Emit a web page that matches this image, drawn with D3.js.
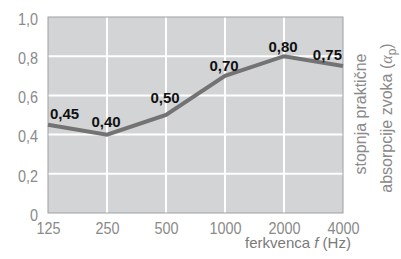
<!DOCTYPE html>
<html><head><meta charset="utf-8">
<script src="https://cdn.jsdelivr.net/npm/d3@7"></script>
<style>
body{margin:0;background:#fff;}
svg{display:block;font-family:"Liberation Sans",Arial,sans-serif;}
</style></head><body>
<svg id="c" width="401" height="259"></svg>
<script>
const categories = ["125","250","500","1000","2000","4000"];
const values = [0.45,0.40,0.50,0.70,0.80,0.75];
const valueLabels = ["0,45","0,40","0,50","0,70","0,80","0,75"];
const yTicks = [0,0.2,0.4,0.6,0.8,1.0];
const yTickLabels = ["0","0,2","0,4","0,6","0,8","1,0"];

// label styling (offsets in px above the point)
const labelLift = [6,8,12,5,4,6];

const svg = d3.select("#c");
const L=48, R=343, T=17, B=213;
const x = d3.scalePoint().domain(categories).range([L,R]);
const y = d3.scaleLinear().domain([0,1]).range([B,T]);
const SX = 0.9;

svg.append("rect").attr("x",L).attr("y",T).attr("width",R-L).attr("height",B-T)
  .attr("fill","#d3d4d5");

// grid
svg.append("g").selectAll("line").data(categories.slice(1,-1)).join("line")
  .attr("x1",d=>x(d)).attr("x2",d=>x(d)).attr("y1",T).attr("y2",B)
  .attr("stroke","#fff").attr("stroke-width",2);
svg.append("g").selectAll("line").data(yTicks.slice(1,-1)).join("line")
  .attr("x1",L).attr("x2",R).attr("y1",d=>y(d)).attr("y2",d=>y(d))
  .attr("stroke","#fff").attr("stroke-width",2);

// border
svg.append("rect").attr("x",L).attr("y",T).attr("width",R-L).attr("height",B-T)
  .attr("fill","none").attr("stroke","#a0a0a0").attr("stroke-width",1);

// axes
const yAxis = d3.axisLeft(y).tickValues(yTicks).tickFormat((d,i)=>yTickLabels[i]).tickSize(0).tickPadding(10);
const gy = svg.append("g").attr("transform",`translate(${L},0)`).call(yAxis);
gy.select(".domain").remove();
gy.selectAll("text").attr("fill","#8a8a8a").attr("font-size",16).attr("font-family","inherit")
  .attr("dy","0.45em").attr("x",-10/SX).attr("transform",`scale(${SX},1)`);

const xAxis = d3.axisBottom(x).tickSize(0).tickPadding(10);
const gx = svg.append("g").attr("transform",`translate(0,${B})`).call(xAxis);
gx.select(".domain").remove();
gx.selectAll("text").attr("fill","#8a8a8a").attr("font-size",16).attr("font-family","inherit")
  .attr("transform",`scale(${SX},1)`);

// line
const line = d3.line().x((d,i)=>x(categories[i])).y(d=>y(d));
svg.append("path").datum(values).attr("d",line).attr("fill","none")
  .attr("stroke","#737373").attr("stroke-width",4).attr("stroke-linejoin","miter");

// value labels
svg.append("g").selectAll("text").data(values).join("text")
  .attr("x",(d,i)=>x(categories[i]) + (i===0?2:-1))
  .attr("y",(d,i)=>y(d)-labelLift[i])
  .attr("text-anchor",(d,i)=>i===0?"start":(i===values.length-1?"end":"middle"))
  .attr("font-size",15).attr("font-weight","bold").attr("fill","#111")
  .text((d,i)=>valueLabels[i]);

// x title
const xt = svg.append("text").attr("x",298).attr("y",248).attr("text-anchor","middle")
  .attr("font-size",15).attr("fill","#7a7a7a");
xt.append("tspan").text("ferkvenca ");
xt.append("tspan").attr("font-style","italic").text("f");
xt.append("tspan").text(" (Hz)");

// right title
const rt = svg.append("g").attr("transform","translate(366,0) rotate(-90)");
rt.append("text").attr("x",-114).attr("text-anchor","middle").attr("font-size",16).attr("fill","#8a8a8a")
  .text("stopnja praktične");
const t2 = rt.append("text").attr("x",-118).attr("y",26).attr("text-anchor","middle").attr("font-size",16).attr("fill","#8a8a8a");
t2.append("tspan").text("absorpcije zvoka (");
t2.append("tspan").attr("font-style","italic").attr("font-family","Liberation Serif, serif").text("α");
t2.append("tspan").attr("font-size",12).attr("dy",4).text("p");
t2.append("tspan").attr("dy",-4).text(")");
</script>
</body></html>
